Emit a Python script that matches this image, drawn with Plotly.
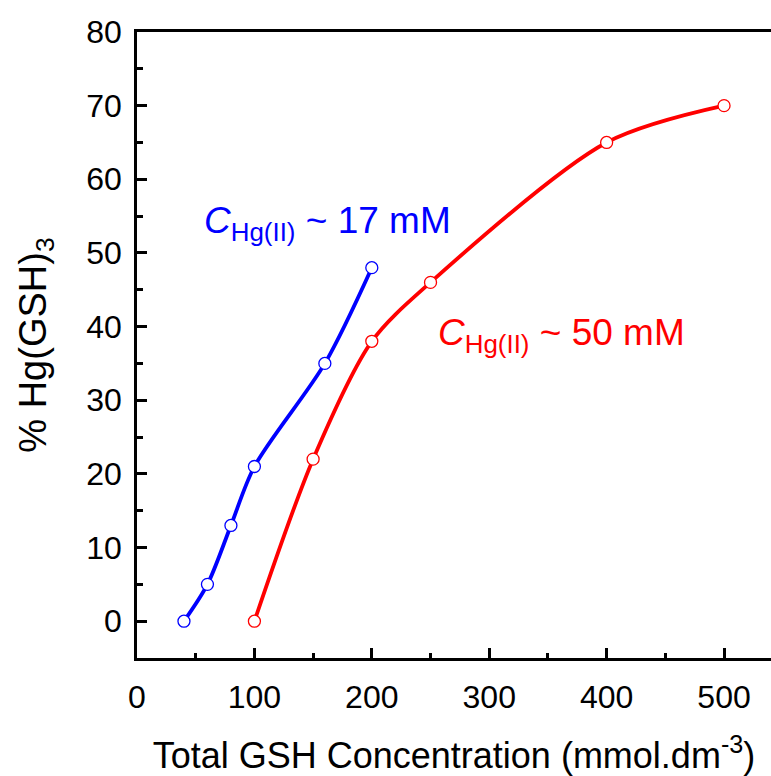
import plotly.graph_objects as go

# Total GSH concentration (mmol/dm^3) and % Hg(GSH)3 for two Hg(II) levels
gsh_17 = [40, 60, 80, 100, 160, 200]
pct_17 = [0, 5, 13, 21, 35, 48]

gsh_50 = [100, 150, 200, 250, 400, 500]
pct_50 = [0, 22, 38, 46, 65, 70]

BLUE = "#0000FF"
RED = "#FF0000"
FONT = "Liberation Sans, Arial, sans-serif"

fig = go.Figure()

for xs, ys, col in [(gsh_17, pct_17, BLUE), (gsh_50, pct_50, RED)]:
    fig.add_trace(go.Scatter(
        x=xs, y=ys, mode="lines",
        line=dict(color=col, width=3.8, shape="spline", smoothing=0.85),
        showlegend=False, hoverinfo="skip",
    ))
    fig.add_trace(go.Scatter(
        x=xs, y=ys, mode="markers",
        marker=dict(symbol="circle", size=12, color="white",
                    line=dict(color=col, width=1.3)),
        showlegend=False,
    ))

fig.add_annotation(
    x=55, y=54.0, xref="x", yref="y", xanchor="left", yanchor="middle",
    text="<i>C</i><sub>Hg(II)</sub> ~ 17 mM", showarrow=False,
    font=dict(family=FONT, size=37, color=BLUE),
)
fig.add_annotation(
    x=255, y=38.8, xref="x", yref="y", xanchor="left", yanchor="middle",
    text="<i>C</i><sub>Hg(II)</sub> ~ 50 mM", showarrow=False,
    font=dict(family=FONT, size=37, color=RED),
)

axis_common = dict(
    showgrid=False, zeroline=False,
    showline=True, linecolor="black", linewidth=2.5,
    ticks="inside", ticklen=10, tickwidth=2.5, tickcolor="black",
    tickfont=dict(family=FONT, size=32, color="black"),
)

fig.update_layout(
    width=771, height=776,
    margin=dict(l=137, r=0, t=32, b=118),
    paper_bgcolor="white", plot_bgcolor="white",
    font=dict(family=FONT, color="black"),
    xaxis=dict(
        **axis_common,
        range=[0, 540], tickmode="array",
        tickvals=[0, 100, 200, 300, 400, 500],
        mirror=True,
        minor=dict(dtick=50, tick0=0, ticks="inside", ticklen=5,
                   tickwidth=2.5, tickcolor="black"),
        ticklabelstandoff=9,
        title=dict(text="Total GSH Concentration (mmol.dm<sup>-3</sup>)",
                   font=dict(family=FONT, size=36), standoff=30),
    ),
    yaxis=dict(
        **axis_common,
        range=[-5, 80], tickmode="array",
        tickvals=[0, 10, 20, 30, 40, 50, 60, 70, 80],
        minor=dict(dtick=5, tick0=0, ticks="inside", ticklen=6,
                   tickwidth=2.5, tickcolor="black"),
        ticklabelstandoff=6,
        title=dict(text="% Hg(GSH)<sub>3</sub>",
                   font=dict(family=FONT, size=38), standoff=28),
    ),
)

fig.write_html("out.html")
